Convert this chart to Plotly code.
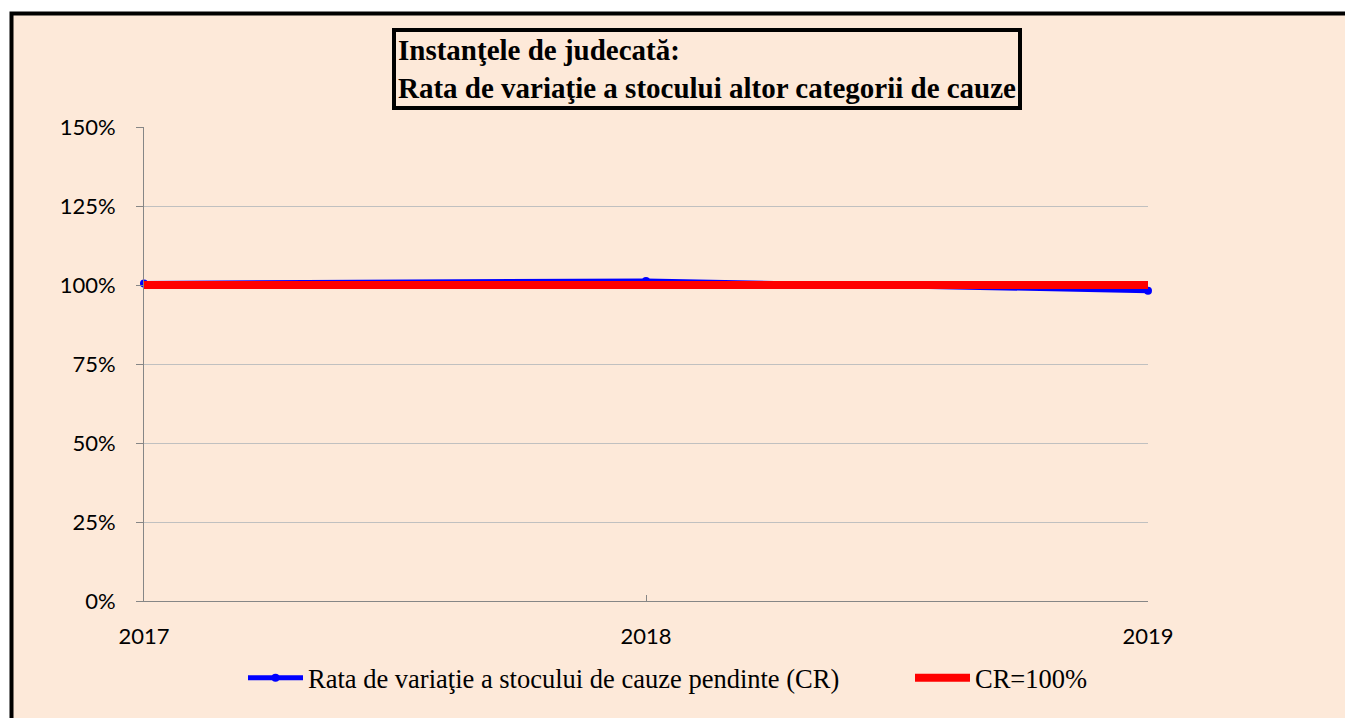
import plotly.graph_objects as go

years = [2017, 2018, 2019]
cr_values = [1.005, 1.013, 0.982]
cr_target = [1.0, 1.0, 1.0]
y_ticks = [0, 0.25, 0.5, 0.75, 1.0, 1.25, 1.5]
y_tick_text = ["0%", "25%", "50%", "75%", "100%", "125%", "150%"]
series_names = ["Rata de variaţie a stocului de cauze pendinte (CR)", "CR=100%"]
title_lines = ["Instanţele de judecată:", "Rata de variaţie a stocului altor categorii de cauze"]

BG = "#FDE9D9"
W, H = 1345, 718
# plot area in viewport pixels: x 144..1148, y 127..601
L, T = 144, 127
R = W - 1148
B = H - 601
pw, ph = W - L - R, H - T - B

def px_x(p):
    return (p - L) / pw

def px_y(p):
    return (H - B - p) / ph

fig = go.Figure()
fig.add_trace(go.Scatter(
    x=years, y=cr_values, name=series_names[0], mode="lines+markers",
    line=dict(color="#0000FF", width=5), marker=dict(symbol="circle", size=8, color="#0000FF"),
    cliponaxis=False, legend="legend",
))
fig.add_trace(go.Scatter(
    x=years, y=cr_target, name=series_names[1], mode="lines",
    line=dict(color="#FF0000", width=8), cliponaxis=False, legend="legend2",
))

fig.add_shape(type="rect", xref="paper", yref="paper",
              x0=px_x(11.5), x1=px_x(1420), y0=px_y(13.5), y1=px_y(780),
              fillcolor=BG, line=dict(color="black", width=4), layer="below")

fig.add_annotation(
    xref="paper", yref="paper", x=px_x(707), y=px_y(68.5), xanchor="center", yanchor="middle",
    text="<b>" + title_lines[0] + "</b><br><b>" + title_lines[1] + "</b>",
    align="left", showarrow=False,
    font=dict(family="Liberation Serif", size=29, color="black"),
    bordercolor="black", borderwidth=4, borderpad=2, bgcolor=BG,
)

leg_font = dict(family="Liberation Serif", size=26.5, color="black")
fig.update_layout(
    width=W, height=H,
    margin=dict(l=L, r=R, t=T, b=B, autoexpand=False),
    paper_bgcolor="white", plot_bgcolor="rgba(0,0,0,0)",
    showlegend=True,
    legend=dict(orientation="h", x=px_x(243), xanchor="left", y=px_y(678), yanchor="middle",
                font=leg_font, bgcolor="rgba(0,0,0,0)", borderwidth=0, itemwidth=55),
    legend2=dict(orientation="h", x=px_x(910), xanchor="left", y=px_y(678), yanchor="middle",
                 font=leg_font, bgcolor="rgba(0,0,0,0)", borderwidth=0, itemwidth=55),
    xaxis=dict(range=[2017, 2019], tickvals=years, ticktext=[str(y) for y in years],
               showgrid=False, zeroline=False, showline=True, linecolor="#868686", linewidth=1,
               ticks="inside", ticklen=6, tickcolor="#868686",
               tickfont=dict(family="Lato", size=22, color="black"), ticklabelstandoff=16),
    yaxis=dict(range=[0, 1.5], tickvals=y_ticks, ticktext=y_tick_text,
               showgrid=True, gridcolor="#C0C0C0", gridwidth=1, zeroline=False,
               showline=True, linecolor="#868686", linewidth=1,
               ticks="outside", ticklen=7, tickcolor="#868686",
               tickfont=dict(family="Lato", size=22, color="black"), ticklabelstandoff=16),
)

fig.write_html(
    "out.html",
    config={"displayModeBar": False},
    post_script="document.body.style.margin='0';document.body.style.overflow='hidden';",
)
